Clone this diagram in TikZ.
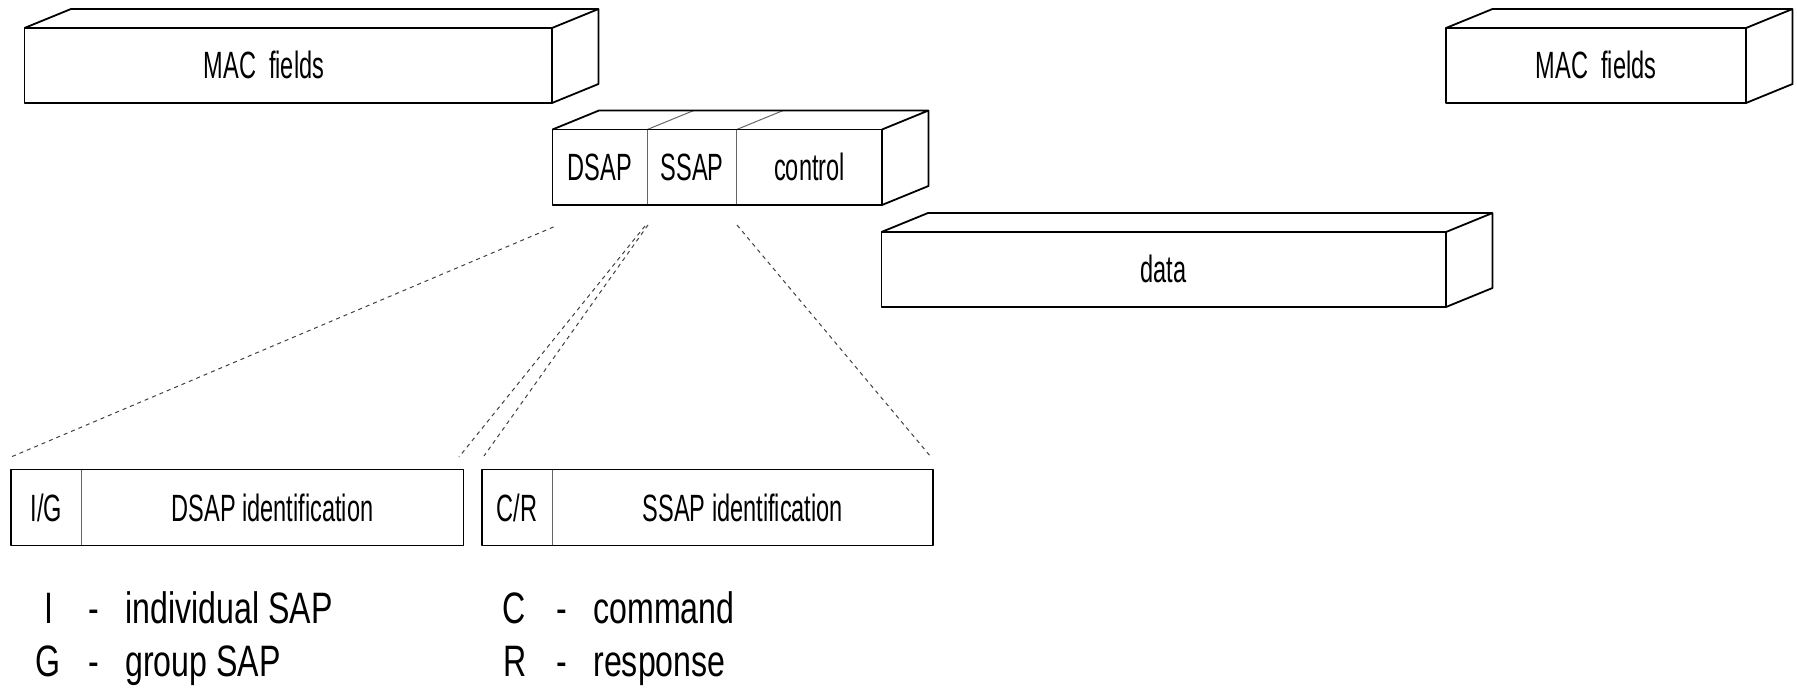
\documentclass[tikz,border=0pt]{standalone}
\usepackage{fontspec}
\setmainfont{Liberation Sans}
\newfontfamily\fieldfont[FakeStretch=0.62]{Liberation Sans}
\newfontfamily\notefont[FakeStretch=0.73]{Liberation Sans}
\usepackage{tikz}
\tikzset{
  frame/.style={draw=black, line width=0.9pt},
  split/.style={draw=black!60, line width=0.5pt},
  fan/.style={draw=black!75, line width=0.5pt, dash pattern=on 2pt off 2pt},
  field/.style={font=\fieldfont\fontsize{19}{19}\selectfont, anchor=base, inner sep=0pt},
  note/.style={font=\notefont\fontsize{22}{22}\selectfont, anchor=base, inner sep=0pt},
}

\begin{document}
\begin{tikzpicture}[x=0.5pt,y=-0.5pt,line join=round]
      \useasboundingbox (0,0) rectangle (1797,689);
      % MAC fields, left
      \draw[frame] (24.5,28) rectangle (552,103);
      \draw[frame] (24.5,28) -- (71,9) -- (598.5,9) -- (598.5,84) -- (552,103) (552,28) -- (598.5,9);
      \node[field] (macl) at (264,78.5) {MAC\ \ fields};
      % LLC header
      \draw[split] (647.3,129.5) -- (647.3,205) (736.7,129.5) -- (736.7,205);
      \draw[split] (647.3,129.5) -- (693.8,110.5) (736.7,129.5) -- (783.2,110.5);
      \draw[frame] (552.5,129.5) rectangle (882,205);
      \draw[frame] (552.5,129.5) -- (599,110.5) -- (928.5,110.5) -- (928.5,186) -- (882,205) (882,129.5) -- (928.5,110.5);
      \node[field] (dsap) at (600,180.5) {DSAP};
      \node[field] (ssap) at (692,180.5) {SSAP};
      \node[field] (ctrl) at (809.5,180.5) {control};
      % data
      \draw[frame] (881.5,232) rectangle (1446,307);
      \draw[frame] (881.5,232) -- (928,213) -- (1492.5,213) -- (1492.5,288) -- (1446,307) (1446,232) -- (1492.5,213);
      \node[field] (data) at (1163.5,283) {data};
      % MAC fields, right
      \draw[frame] (1446,28) rectangle (1746,103);
      \draw[frame] (1446,28) -- (1492.5,9) -- (1792.5,9) -- (1792.5,84) -- (1746,103) (1746,28) -- (1792.5,9);
      \node[field] (macr) at (1596,78.5) {MAC\ \ fields};
      % address octets
      \draw[split] (81.7,469.5) -- (81.7,545.5);
      \draw[frame] (11,469.5) rectangle (463.5,545.5);
      \node[field] (ig) at (46.5,521) {I/G};
      \node[field] (dsapid) at (272.5,521) {DSAP identification};
      \draw[split] (552.3,469.5) -- (552.3,545.5);
      \draw[frame] (481.7,469.5) rectangle (933.3,545.5);
      \node[field] (cr) at (517,521) {C/R};
      \node[field] (ssapid) at (742.8,521) {SSAP identification};
      % expansion lines
      \coordinate (d1) at (553.5,227);
      \coordinate (s1) at (645,226);
      \coordinate (s2) at (648,225);
      \coordinate (c1) at (737,225);
      \coordinate (g1) at (11,457);
      \coordinate (g2) at (459,457);
      \coordinate (r1) at (484,456);
      \coordinate (r2) at (931,457);
      \draw[fan] (d1) -- (g1);
      \draw[fan] (s1) -- (g2);
      \draw[fan] (s2) -- (r1);
      \draw[fan] (c1) -- (r2);
      % legend
      \node[note] (ikey) at (49,623) {I};
      \node[note] (idash) at (94,623) {-};
      \node[note, anchor=base west] (itext) at (125,623) {individual SAP};
      \node[note] (gkey) at (48,676) {G};
      \node[note] (gdash) at (94,676) {-};
      \node[note, anchor=base west] (gtext) at (125,676) {group SAP};
      \node[note] (ckey) at (514,623) {C};
      \node[note] (cdash) at (562,623) {-};
      \node[note, anchor=base west] (ctext) at (593,623) {command};
      \node[note] (rkey) at (515,676) {R};
      \node[note] (rdash) at (562,676) {-};
      \node[note, anchor=base west] (rtext) at (593,676) {response};
    \end{tikzpicture}
\end{document}
